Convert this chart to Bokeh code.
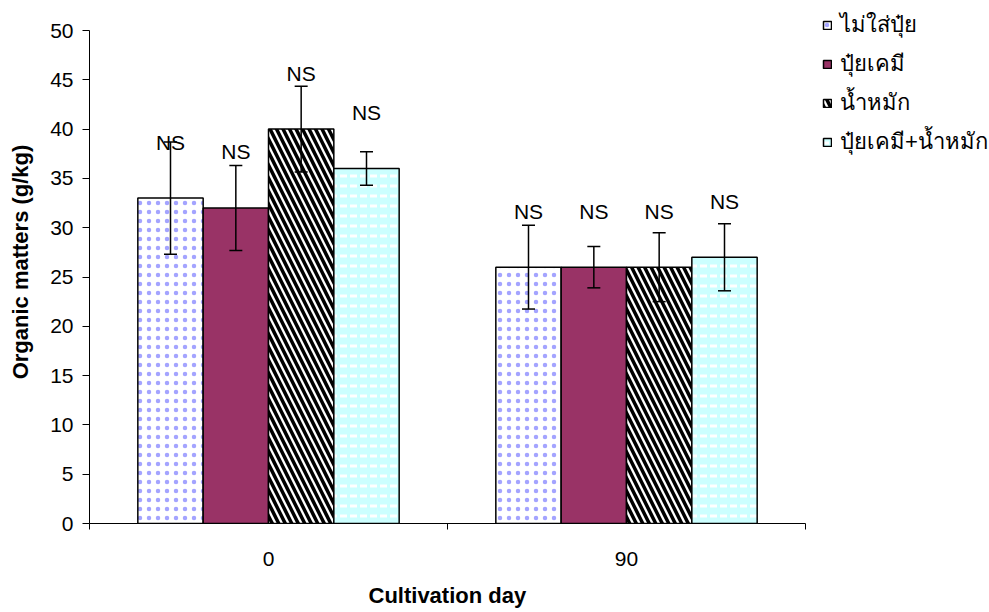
from bokeh.plotting import figure
from bokeh.models import (ColumnDataSource, FixedTicker, Legend, LegendItem,
                          Whisker, TeeHead, Range1d, Title)
from bokeh.embed import file_html
from bokeh.resources import INLINE

# Cultivation days (x categories) and treatments (series)
days = ["0", "90"]
treatments = ["ไม่ใส่ปุ๋ย", "ปุ๋ยเคมี", "น้ำหมัก", "ปุ๋ยเคมี+น้ำหมัก"]

# Organic matter (g/kg), mean and error-bar half width per day
no_fert = [33, 26]
no_fert_err = [5.7, 4.25]
chem = [32, 26]
chem_err = [4.3, 2.1]
compost = [40, 26]
compost_err = [4.35, 3.5]
chem_compost = [36, 27]
chem_compost_err = [1.7, 3.4]

sig_label = "NS"
x_title = "Cultivation day"
y_title = "Organic matters (g/kg)"
y_max = 50

series = [
    (no_fert, no_fert_err,
     dict(fill_color="white", hatch_pattern="dot", hatch_color="#a4a4ff",
          hatch_scale=9, hatch_weight=0.8)),
    (chem, chem_err, dict(fill_color="#993366")),
    (compost, compost_err,
     dict(fill_color="white", hatch_pattern="left_diagonal_line",
          hatch_color="black", hatch_scale=13, hatch_weight=3.5)),
    (chem_compost, chem_compost_err,
     dict(fill_color="#ccffff", hatch_pattern="horizontal_dash",
          hatch_color="white", hatch_scale=10, hatch_weight=3)),
]

FONT = "Liberation Sans"
bar_w = 0.1825
n = len(series)

# Plot area: the axes occupy 716 x 493 px; the frame is widened to the
# right and upward so the legend can sit inside it, and the axis lines
# are bounded to the data extent.
W, H = 989, 612
left, bottom = 89, 89
axis_w, axis_h = 716, 493
x_end = len(days) * (W - left) / axis_w
y_end = y_max * (H - bottom) / axis_h

p = figure(width=W, height=H, output_backend="svg", toolbar_location=None,
           x_range=Range1d(0, x_end), y_range=Range1d(0, y_end),
           min_border_left=left, min_border_right=0,
           min_border_top=0, min_border_bottom=bottom)
p.outline_line_color = None
p.grid.visible = False
p.background_fill_color = "white"
p.border_fill_color = "white"

items = []
for k, (vals, errs, style) in enumerate(series):
    offset = (k - (n - 1) / 2) * bar_w
    xs = [i + 0.5 + offset for i in range(len(days))]
    src = ColumnDataSource(dict(
        x=xs, top=vals,
        upper=[v + e for v, e in zip(vals, errs)],
        lower=[v - e for v, e in zip(vals, errs)],
        label=[sig_label] * len(days),
    ))
    r = p.vbar(x="x", top="top", bottom=0, width=bar_w, source=src,
               line_color="black", line_width=1.5, **style)
    items.append(LegendItem(label=treatments[k], renderers=[r]))

    p.add_layout(Whisker(base="x", upper="upper", lower="lower", source=src,
                         level="overlay", line_color="black", line_width=1.5,
                         upper_head=TeeHead(size=13, line_width=1.5, line_color="black"),
                         lower_head=TeeHead(size=13, line_width=1.5, line_color="black")))

    p.text(x="x", y="top", text="label", source=src, y_offset=-56,
           text_align="center", text_baseline="middle",
           text_font={"value": FONT},
           text_font_size="21px", text_color="black")

# y axis
ya = p.yaxis[0]
ya.bounds = (0, y_max)
ya.ticker = FixedTicker(ticks=list(range(0, y_max + 1, 5)))
ya.axis_label = y_title
ya.axis_label_text_font = FONT
ya.axis_label_text_font_style = "bold"
ya.axis_label_text_font_size = "22px"
ya.axis_label_text_color = "black"
ya.axis_label_standoff = 14
ya.major_label_text_font = FONT
ya.major_label_text_font_size = "21px"
ya.major_label_text_color = "black"
ya.major_label_standoff = 9
ya.major_tick_in = 0
ya.major_tick_out = 7
ya.minor_tick_out = 0
ya.minor_tick_in = 0
ya.axis_line_color = "black"
ya.major_tick_line_color = "black"

# x axis: labels centred on groups, ticks at group boundaries
xa = p.xaxis[0]
xa.bounds = (0, len(days))
xa.ticker = FixedTicker(ticks=[i + 0.5 for i in range(len(days))],
                        minor_ticks=list(range(len(days) + 1)))
xa.major_label_overrides = {i + 0.5: d for i, d in enumerate(days)}
xa.major_label_text_font = FONT
xa.major_label_text_font_size = "21px"
xa.major_label_text_color = "black"
xa.major_label_standoff = 22
xa.major_tick_in = 0
xa.major_tick_out = 0
xa.minor_tick_in = 0
xa.minor_tick_out = 6
xa.minor_tick_line_color = "black"
xa.axis_line_color = "black"
# blank, tiny axis label used only as spacing above the title
xa.axis_label = " "
xa.axis_label_text_font_size = "1px"
xa.axis_label_standoff = 8

# x-axis title, centred under the bounded axis rather than the wide frame
title_w = 158  # approx. rendered width of the bold 22px title
p.add_layout(Title(text=x_title, align="left",
                   offset=axis_w / 2 - title_w / 2,
                   text_font=FONT, text_font_style="bold",
                   text_font_size="22px", text_color="black",
                   standoff=0), "below")

legend = Legend(items=items, location=(733, 364), orientation="vertical",
                glyph_width=10, glyph_height=10, label_height=20, spacing=4,
                padding=0, margin=0, label_standoff=8,
                label_text_font_size="22px", label_text_color="black",
                border_line_alpha=0, background_fill_alpha=0)
p.add_layout(legend)

open("out.html", "w").write(file_html(p, INLINE))
